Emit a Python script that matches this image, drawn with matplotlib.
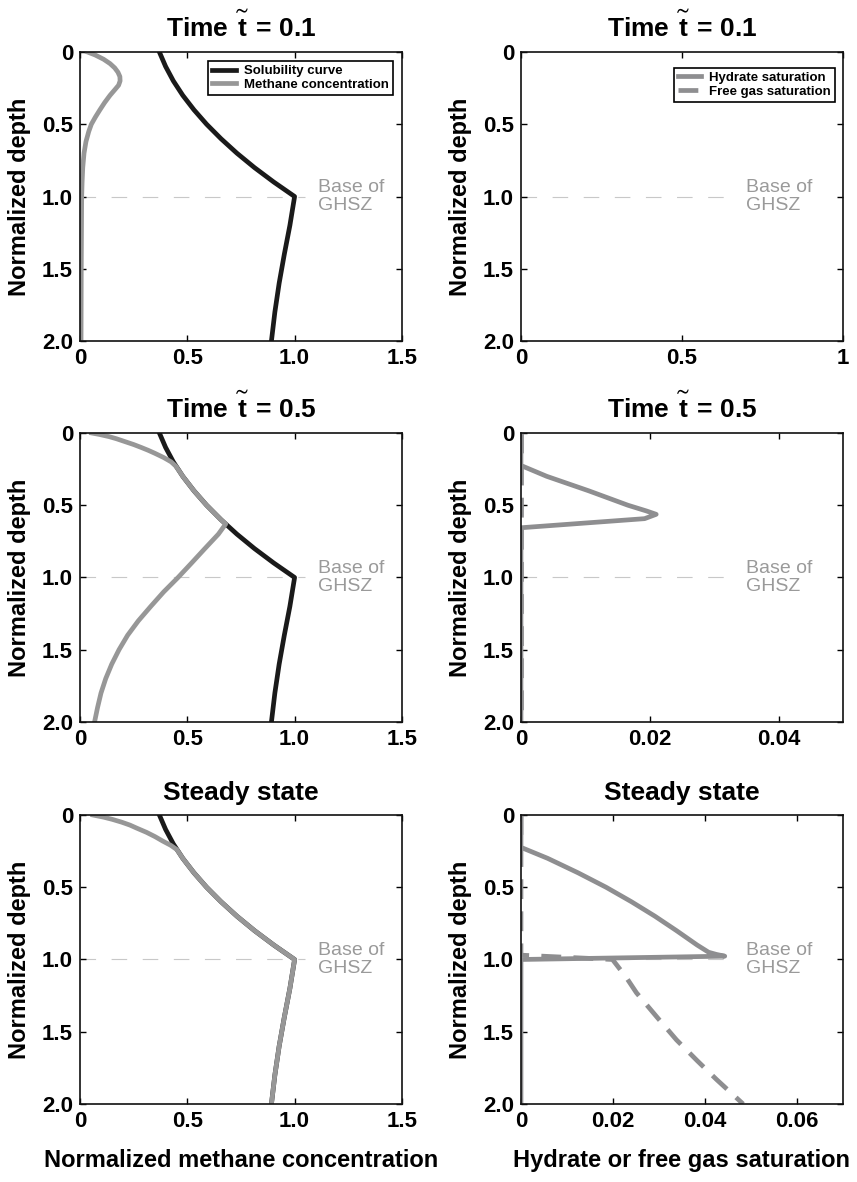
import matplotlib
matplotlib.use('Agg')
import matplotlib.pyplot as plt

plt.rcParams['font.family'] = ['Liberation Sans', 'DejaVu Sans']
plt.rcParams['font.weight'] = 'bold'
plt.rcParams['mathtext.fontset'] = 'custom'
plt.rcParams['mathtext.rm'] = 'Liberation Sans:bold'
plt.rcParams['mathtext.it'] = 'Liberation Sans:bold'
plt.rcParams['mathtext.bf'] = 'Liberation Sans:bold'
plt.rcParams['mathtext.fallback'] = 'stixsans'

# solubility curve (same in every left panel)
sol_depth = [0.0, 0.1, 0.2, 0.3, 0.4, 0.5, 0.6, 0.7, 0.8, 0.9, 1.0, 1.2, 1.4, 1.6, 1.8, 2.0]
sol_conc = [0.37, 0.399, 0.435, 0.479, 0.531, 0.59, 0.657, 0.731, 0.813, 0.903, 1.0,
            0.978, 0.952, 0.928, 0.908, 0.892]

# methane concentration, t = 0.1
ch4_a_depth = [0.0, 0.02, 0.05, 0.08, 0.11, 0.14, 0.17, 0.2, 0.23, 0.26, 0.3, 0.35, 0.4, 0.45, 0.5,
               0.55, 0.62, 0.7, 0.8, 0.9, 1.0, 1.5, 2.0]
ch4_a_conc = [0.035, 0.07, 0.11, 0.14, 0.162, 0.177, 0.186, 0.187, 0.18, 0.163, 0.14, 0.115, 0.093,
              0.072, 0.053, 0.041, 0.028, 0.019, 0.013, 0.01, 0.008, 0.006, 0.005]

# methane concentration, t = 0.5
ch4_b_depth = [0.0, 0.01, 0.025, 0.04, 0.06, 0.08, 0.1, 0.12, 0.14, 0.17, 0.2, 0.23, 0.26, 0.3, 0.4,
               0.5, 0.6, 0.63, 0.7, 0.8, 0.9, 1.0, 1.1, 1.2, 1.3, 1.4, 1.5, 1.6, 1.7, 1.8, 1.9, 2.0]
ch4_b_conc = [0.054, 0.09, 0.135, 0.17, 0.21, 0.25, 0.285, 0.318, 0.348, 0.39, 0.425, 0.447, 0.461,
              0.479, 0.531, 0.59, 0.657, 0.679, 0.645, 0.582, 0.52, 0.457, 0.39, 0.33, 0.272, 0.222,
              0.182, 0.148, 0.12, 0.098, 0.082, 0.068]

# methane concentration, steady state
ch4_c_depth = [0.0, 0.015, 0.03, 0.05, 0.07, 0.09, 0.12, 0.15, 0.18, 0.21, 0.24, 0.3, 0.4, 0.5, 0.6,
               0.7, 0.8, 0.9, 1.0, 1.2, 1.4, 1.6, 1.8, 2.0]
ch4_c_conc = [0.06, 0.11, 0.15, 0.195, 0.233, 0.263, 0.31, 0.35, 0.385, 0.423, 0.452, 0.479, 0.531,
              0.59, 0.657, 0.731, 0.813, 0.903, 1.0, 0.978, 0.952, 0.928, 0.908, 0.892]

# hydrate / free gas saturation, t = 0.1 (nothing formed yet)
hyd_a_depth, hyd_a_sat = [], []
gas_a_depth, gas_a_sat = [], []

# t = 0.5
hyd_b_depth = [0.0, 0.225, 0.3, 0.4, 0.5, 0.54, 0.563, 0.593, 0.656, 2.0]
hyd_b_sat = [0.0, 0.0, 0.004, 0.0105, 0.0166, 0.0195, 0.021, 0.0192, 0.0, 0.0]
gas_b_depth = [0.0, 2.0]
gas_b_sat = [0.0, 0.0]

# steady state
hyd_c_depth = [0.0, 0.224, 0.3, 0.4, 0.5, 0.6, 0.7, 0.8, 0.9, 0.95, 0.965, 0.977, 1.0, 2.0]
hyd_c_sat = [0.0, 0.0, 0.0058, 0.0124, 0.0185, 0.024, 0.0291, 0.0338, 0.0383, 0.0408, 0.0425,
             0.0443, 0.0, 0.0]
gas_c_depth = [0.0, 0.97, 1.0, 1.12, 1.23, 1.4, 1.556, 1.7, 1.83, 2.0]
gas_c_sat = [0.0, 0.0, 0.0199, 0.0228, 0.0251, 0.0296, 0.0338, 0.0383, 0.0425, 0.0483]

titles = [r'Time$\,\overset{\sim}{t}\,$= 0.1', r'Time$\,\overset{\sim}{t}\,$= 0.5', 'Steady state']
left_ticks = [0, 0.5, 1.0, 1.5]
left_labels = ['0', '0.5', '1.0', '1.5']
right_ticks = [[0, 0.5, 1], [0, 0.02, 0.04], [0, 0.02, 0.04, 0.06]]
right_labels = [['0', '0.5', '1'], ['0', '0.02', '0.04'], ['0', '0.02', '0.04', '0.06']]
right_xmax = [1, 0.05, 0.07]
depth_ticks = [0, 0.5, 1.0, 1.5, 2.0]
depth_labels = ['0', '0.5', '1.0', '1.5', '2.0']

BLACK = '#1a1a1a'
GRAY_L = '#979797'
GRAY_R = '#8e8e90'
BASE = '#c8c8c8'
TXT = '#9a9a9a'
LW = 3.4

fig = plt.figure(figsize=(8.57, 11.82), dpi=100)
bottoms = [0.7115, 0.3892, 0.066]
w, h = 0.3757, 0.2445

ch4 = [(ch4_a_depth, ch4_a_conc), (ch4_b_depth, ch4_b_conc), (ch4_c_depth, ch4_c_conc)]
hyd = [(hyd_a_depth, hyd_a_sat), (hyd_b_depth, hyd_b_sat), (hyd_c_depth, hyd_c_sat)]
gas = [(gas_a_depth, gas_a_sat), (gas_b_depth, gas_b_sat), (gas_c_depth, gas_c_sat)]


def style(ax, title):
    ax.set_ylim(2.0, 0)
    ax.set_yticks(depth_ticks)
    ax.set_yticklabels(depth_labels)
    ax.tick_params(direction='in', top=True, right=True, length=4, width=1,
                   labelsize=16, pad=5)
    for s in ax.spines.values():
        s.set_linewidth(1.2)
        s.set_color('#111111')
    ax.set_title(title, fontsize=19, fontweight='bold', pad=11)
    ax.set_ylabel('Normalized depth', fontsize=17, fontweight='bold', labelpad=8)


def add_legend(ax, anchor):
    leg = ax.legend(loc='upper right', bbox_to_anchor=anchor, borderaxespad=0,
                    fontsize=9.5, fancybox=False, framealpha=1, edgecolor='black',
                    handlelength=1.8, handletextpad=0.6, labelspacing=0.1, borderpad=0.3)
    leg.get_frame().set_linewidth(1.2)


for i in range(3):
    # left column: methane
    ax = fig.add_axes([0.0933, bottoms[i], w, h])
    ax.plot(sol_conc, sol_depth, color=BLACK, lw=LW, label='Solubility curve')
    ax.plot(ch4[i][1], ch4[i][0], color=GRAY_L, lw=LW, label='Methane concentration')
    ax.axhline(1.0, xmax=0.70, color=BASE, lw=0.8, ls=(0, (14, 14)), zorder=1)
    ax.text(0.74, 1.0, 'Base of\nGHSZ', transform=ax.get_yaxis_transform(), color=TXT,
            fontsize=14, fontweight='normal', va='center', ha='left', linespacing=1.1)
    ax.set_xlim(0, 1.5)
    ax.set_xticks(left_ticks)
    ax.set_xticklabels(left_labels)
    style(ax, titles[i])
    if i == 0:
        add_legend(ax, (0.972, 0.969))
    if i == 2:
        ax.set_xlabel('Normalized methane concentration', fontsize=17, fontweight='bold', labelpad=12)

    # right column: saturations
    ax = fig.add_axes([0.6079, bottoms[i], w, h])
    ax.plot(hyd[i][1], hyd[i][0], color=GRAY_R, lw=LW, label='Hydrate saturation')
    ax.plot(gas[i][1], gas[i][0], color=GRAY_R, lw=LW, ls=(0, (4.2, 2.6)), label='Free gas saturation')
    ax.axhline(1.0, xmax=0.645, color=BASE, lw=0.8, ls=(0, (14, 14)), zorder=1)
    ax.text(0.70, 1.0, 'Base of\nGHSZ', transform=ax.get_yaxis_transform(), color=TXT,
            fontsize=14, fontweight='normal', va='center', ha='left', linespacing=1.1)
    ax.set_xlim(0, right_xmax[i])
    ax.set_xticks(right_ticks[i])
    ax.set_xticklabels(right_labels[i])
    style(ax, titles[i])
    if i == 0:
        add_legend(ax, (0.975, 0.945))
    if i == 2:
        ax.set_xlabel('Hydrate or free gas saturation', fontsize=17, fontweight='bold', labelpad=12)

fig.savefig('out.png', dpi=100)
